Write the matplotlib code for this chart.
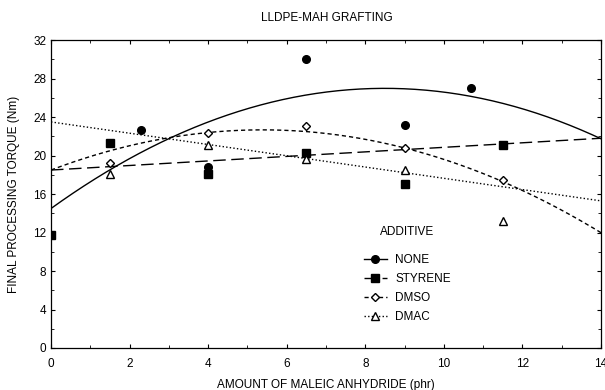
import numpy as np
import matplotlib
matplotlib.use("Agg")
import matplotlib.pyplot as plt
from matplotlib.ticker import MultipleLocator

plt.rcParams['font.family'] = ['Liberation Sans', 'DejaVu Sans']

# Data points
none_x = [2.3, 4.0, 6.5, 9.0, 10.7]
none_y = [22.7, 18.8, 30.0, 23.2, 27.0]
sty_x = [0.0, 1.5, 4.0, 6.5, 9.0, 11.5]
sty_y = [11.7, 21.3, 18.1, 20.3, 17.1, 21.1]
dmso_x = [1.5, 4.0, 6.5, 9.0, 11.5]
dmso_y = [19.2, 22.3, 23.1, 20.8, 17.5]
dmac_x = [1.5, 4.0, 6.5, 9.0, 11.5]
dmac_y = [18.1, 21.1, 19.6, 18.5, 13.2]

# Fit curve coefficients (c0, c1, c2)
none_fit = [14.5, 2.94, -0.173]
sty_fit = [18.5, 0.236, 0.0]
dmso_fit = [18.5, 1.551, -0.144]
dmac_fit = [23.5, -0.586, 0.0]

labels = ["NONE", "STYRENE", "DMSO", "DMAC"]

fig = plt.figure(figsize=(6.05, 3.9), dpi=100)
ax = fig.add_axes([0.0843, 0.1077, 0.909, 0.7893])

xs = np.linspace(0, 14, 300)
def curve(c):
    return c[0] + c[1] * xs + c[2] * xs ** 2

styles = ['-', (0, (9, 4)), (0, (3, 2.2)), (0, (1, 1.6))]
markers = [dict(marker='o', mfc='black', ms=5.5),
           dict(marker='s', mfc='black', ms=5.5),
           dict(marker='D', mfc='white', ms=4.2),
           dict(marker='^', mfc='white', ms=5.5)]
data = [(none_x, none_y, none_fit), (sty_x, sty_y, sty_fit),
        (dmso_x, dmso_y, dmso_fit), (dmac_x, dmac_y, dmac_fit)]

handles = []
for (x, y, c), ls, mk, lab in zip(data, styles, markers, labels):
    ax.plot(xs, curve(c), color='black', lw=1.0, ls=ls)
    ax.plot(x, y, ls='none', color='black', mec='black', mew=1.0,
            zorder=3, **mk)
    h, = ax.plot([], [], color='black', lw=1.0, ls=ls, mec='black', mew=1.0, **mk)
    h.set_label(lab)
    handles.append(h)

ax.set_xlim(0, 14)
ax.set_ylim(0, 32)
ax.xaxis.set_major_locator(MultipleLocator(2))
ax.yaxis.set_major_locator(MultipleLocator(4))
ax.xaxis.set_minor_locator(MultipleLocator(1))
ax.yaxis.set_minor_locator(MultipleLocator(2))
ax.tick_params(which='both', direction='in', top=True, right=True, labelsize=8.5)
ax.tick_params(axis='x', pad=7)
ax.tick_params(which='major', length=3, width=0.8)
ax.tick_params(which='minor', length=2, width=0.6)
for s in ax.spines.values():
    s.set_linewidth(0.9)

ax.set_xlabel("AMOUNT OF MALEIC ANHYDRIDE (phr)", fontsize=8.5, labelpad=7)
ax.set_ylabel("FINAL PROCESSING TORQUE (Nm)", fontsize=8.5, labelpad=9)
fig.text(0.54, 0.955, "LLDPE-MAH GRAFTING", ha='center', va='center', fontsize=8.5)

leg = ax.legend(handles=handles, title="ADDITIVE", loc='center left',
                bbox_to_anchor=(0.549, 0.24), frameon=False, fontsize=8.5,
                title_fontsize=8.5, handlelength=2.0, labelspacing=0.58,
                handletextpad=0.68)
leg._legend_box.sep = 12

fig.savefig("out.png", dpi=100)
